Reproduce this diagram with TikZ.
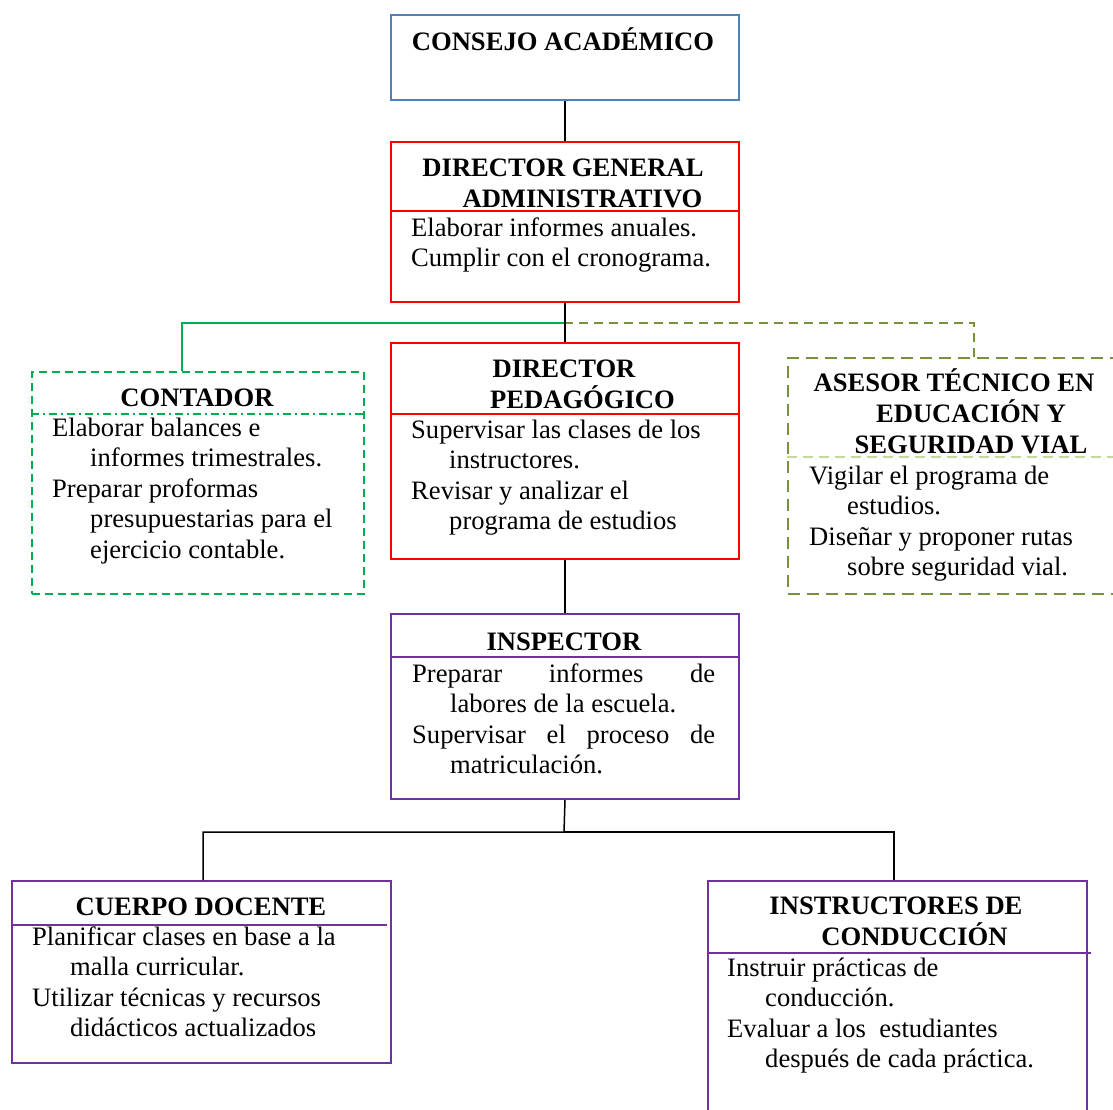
\documentclass[tikz,border=0pt]{standalone}
\usepackage{fontspec}
\usepackage{tikz}
\newfontfamily\tnr{Liberation Serif}
\definecolor{consejoblue}{RGB}{79,129,189}
\definecolor{dirred}{RGB}{255,0,0}
\definecolor{contgreen}{RGB}{0,176,80}
\definecolor{aseolive}{RGB}{118,146,60}
\definecolor{aselight}{RGB}{195,214,155}
\definecolor{inspurple}{RGB}{112,48,160}
\newcommand{\hangpar}[1]{\ifvmode\noindent\fi\hangindent=38pt\hangafter=1\relax #1\par}

\begin{document}
\begin{tikzpicture}[x=1pt,y=-1pt,
    every node/.style={inner sep=0pt},
    orgbox/.style={draw=#1, line width=2pt, anchor=north west},
    headtxt/.style={font=\tnr\bfseries\fontsize{26.6}{30.6}\selectfont, align=center, anchor=base},
    dutytxt/.style={font=\tnr\fontsize{26.6}{30.6}\selectfont, anchor=base west, align=justify, text width=#1},
    link/.style={draw=black, line width=1.5pt},
    sepline/.style={draw=#1, line width=1.5pt}]
        \useasboundingbox (0,0) rectangle (1113,1109);
        \clip (0,0) rectangle (1113,1109);
        \coordinate (split) at (564,323);
        \coordinate (split2) at (564,832);
        % boxes
        \node[orgbox=consejoblue, minimum width=348pt, minimum height=85pt] (consejo) at (390,14) {};
        \node[orgbox=dirred, minimum width=348pt, minimum height=160pt] (dga) at (390,141) {};
        \node[orgbox=dirred, minimum width=348pt, minimum height=216pt] (dped) at (390,342) {};
        \node[orgbox=contgreen, dash pattern=on 8pt off 5pt, minimum width=332pt, minimum height=222pt] (cont) at (31,371) {};
        \node[orgbox=aseolive, dash pattern=on 12pt off 7pt, minimum width=372pt, minimum height=236pt] (ase) at (787,357) {};
        \node[orgbox=inspurple, minimum width=348pt, minimum height=185pt] (insp) at (390,613) {};
        \node[orgbox=inspurple, minimum width=379pt, minimum height=182pt] (doc) at (11,880) {};
        \node[orgbox=inspurple, minimum width=379pt, minimum height=250pt] (inst) at (707,880) {};
        % connectors
        \draw[contgreen, line width=2pt] (split) -| ([xshift=-16pt]cont.north);
        \draw[aseolive, line width=2pt, dash pattern=on 9pt off 6pt] (split) -| (ase.north);
        \draw[link] (consejo.south) -- (dga.north);
        \draw[link] (dga.south) -- (dped.north);
        \draw[link] (dped.south) -- (insp.north);
        \draw[link] (insp.south) -- (split2) -| ([xshift=1.5pt]doc.north);
        \draw[link] (split2) -| ([xshift=-3.5pt]inst.north);
        % separators
        \draw[sepline=dirred] ([yshift=-70pt]dga.north west) -- ([yshift=-70pt]dga.north east);
        \draw[sepline=dirred] ([yshift=-72pt]dped.north west) -- ([yshift=-72pt]dped.north east);
        \draw[sepline=contgreen, dash pattern=on 8pt off 4pt on 2pt off 4pt] ([yshift=-43pt]cont.north west) -- ([yshift=-43pt]cont.north east);
        \draw[sepline=aselight, dash pattern=on 10pt off 6pt] ([yshift=-100pt]ase.north west) -- ([yshift=-100pt]ase.north east);
        \draw[sepline=inspurple] ([yshift=-44pt]insp.north west) -- ([yshift=-44pt]insp.north east);
        \draw[sepline=inspurple] ([yshift=-45pt]doc.north west) -- ([yshift=-45pt,xshift=-5pt]doc.north east);
        \draw[sepline=inspurple] ([yshift=-73pt]inst.north west) -- ([yshift=-73pt,xshift=3pt]inst.north east);
        % titles
        \node[headtxt] (consejoHead) at (563,50) {CONSEJO ACADÉMICO};
        \node[headtxt] (dgaHead) at (563,207) {DIRECTOR GENERAL\\\hspace*{39pt}ADMINISTRATIVO};
        \node[headtxt] (contHead) at (197,406) {CONTADOR};
        \node[headtxt] (dpedHead) at (564,408) {DIRECTOR\\\hspace*{37pt}PEDAGÓGICO};
        \node[headtxt] (aseHead) at (954,453) {ASESOR TÉCNICO EN\\\hspace*{34pt}EDUCACIÓN Y\\\hspace*{34pt}SEGURIDAD VIAL};
        \node[headtxt] (inspHead) at (564,650) {INSPECTOR};
        \node[headtxt] (docHead) at (201,915) {CUERPO DOCENTE};
        \node[headtxt] (instHead) at (896,945) {INSTRUCTORES DE\\\hspace*{37pt}CONDUCCIÓN};
        % duties
        \node[dutytxt=320pt] (dgaDuties) at (411,236) {\hangpar{Elaborar informes anuales.}\hangpar{Cumplir con el cronograma.}};
        \node[dutytxt=300pt] (contDuties) at (52,436) {\hangpar{Elaborar balances e\newline informes trimestrales.}\hangpar{Preparar proformas\newline presupuestarias para el\newline ejercicio contable.}};
        \node[dutytxt=320pt] (dpedDuties) at (411,438) {\hangpar{Supervisar las clases de los\newline instructores.}\hangpar{Revisar y analizar el\newline programa de estudios}};
        \node[dutytxt=300pt] (aseDuties) at (809,484) {\hangpar{Vigilar el programa de\newline estudios.}\hangpar{Diseñar y proponer rutas\newline sobre seguridad vial.}};
        \node[dutytxt=303pt] (inspDuties) at (412,682) {\tolerance=10000 \hangpar{Preparar informes de\linebreak labores de la escuela.}\hangpar{Supervisar el proceso de\linebreak matriculación.}};
        \node[dutytxt=340pt] (docDuties) at (32,945) {\hangpar{Planificar clases en base a la\newline malla curricular.}\hangpar{Utilizar técnicas y recursos\newline didácticos actualizados}};
        \node[dutytxt=340pt] (instDuties) at (727,976) {\hangpar{Instruir prácticas de\newline conducción.}\hangpar{Evaluar a los\ \ estudiantes\newline después de cada práctica.}};
    \end{tikzpicture}
\end{document}
